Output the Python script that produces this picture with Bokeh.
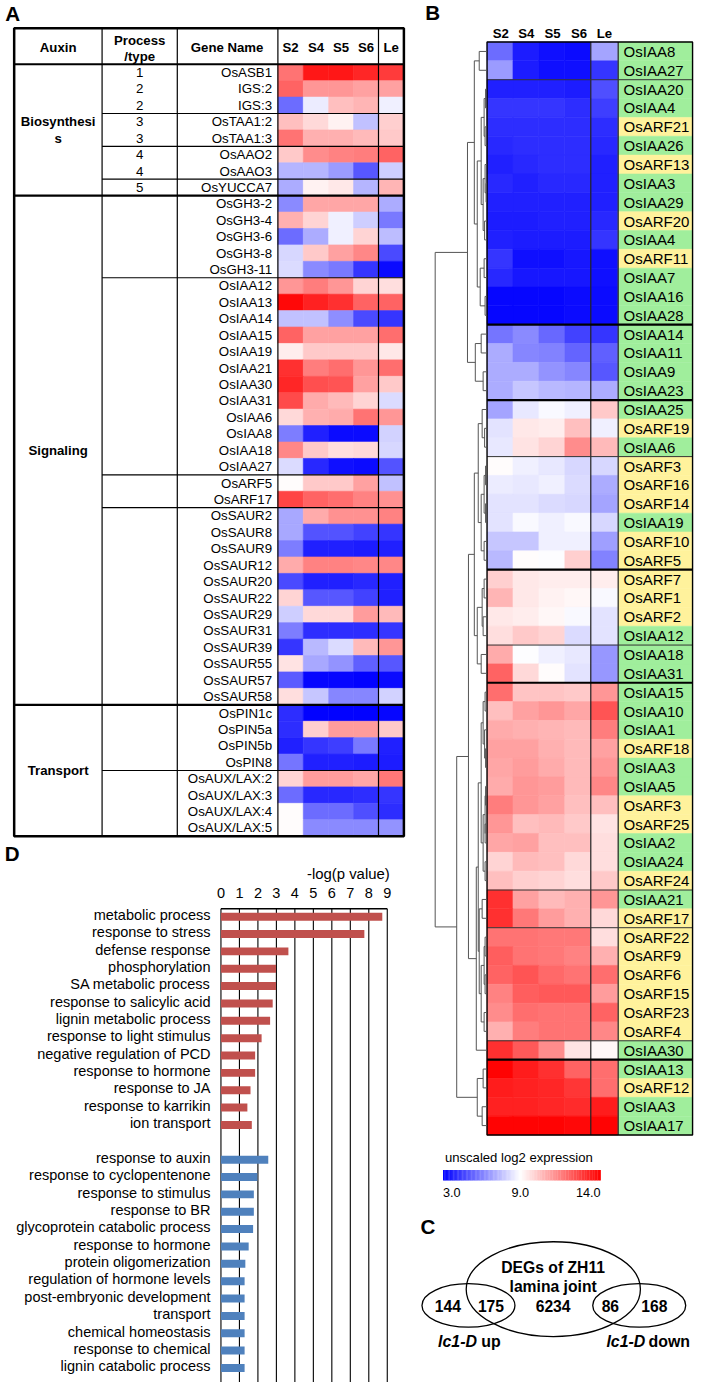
from bokeh.plotting import figure
from bokeh.layouts import row, column
from bokeh.models import Range1d, LinearColorMapper, ColumnDataSource
from bokeh.transform import transform
from bokeh.core.properties import value
from bokeh.embed import file_html
from bokeh.resources import INLINE

# ------------------------------------------------------------------ data
SAMPLES = ["S2", "S4", "S5", "S6", "Le"]

A_genes = ["OsASB1", "IGS:2", "IGS:3", "OsTAA1:2", "OsTAA1:3", "OsAAO2", "OsAAO3", "OsYUCCA7",
           "OsGH3-2", "OsGH3-4", "OsGH3-6", "OsGH3-8", "OsGH3-11",
           "OsIAA12", "OsIAA13", "OsIAA14", "OsIAA15", "OsIAA19", "OsIAA21", "OsIAA30", "OsIAA31",
           "OsIAA6", "OsIAA8", "OsIAA18", "OsIAA27",
           "OsARF5", "OsARF17",
           "OsSAUR2", "OsSAUR8", "OsSAUR9", "OsSAUR12", "OsSAUR20", "OsSAUR22", "OsSAUR29", "OsSAUR31",
           "OsSAUR39", "OsSAUR55", "OsSAUR57", "OsSAUR58",
           "OsPIN1c", "OsPIN5a", "OsPIN5b", "OsPIN8",
           "OsAUX/LAX:2", "OsAUX/LAX:3", "OsAUX/LAX:4", "OsAUX/LAX:5"]
A_process = ["1", "2", "2", "3", "3", "4", "4", "5"]
A_expr = [
    [11.7, 13.5, 13.5, 13.2, 12.8], [12.0, 11.0, 11.0, 10.8, 10.8], [5.5, 8.5, 10.2, 10.4, 8.6],
    [10.2, 9.7, 9.2, 7.5, 9.9], [11.7, 10.5, 10.5, 10.3, 10.0], [10.0, 11.2, 11.4, 11.5, 12.0],
    [7.2, 7.2, 6.6, 5.0, 7.8], [7.0, 9.2, 9.4, 7.2, 10.4],
    [6.2, 10.7, 10.7, 10.7, 7.0], [10.5, 9.8, 8.7, 7.8, 5.8], [5.6, 7.0, 8.7, 9.8, 7.4],
    [8.0, 10.0, 10.8, 11.3, 4.7], [8.2, 6.2, 5.8, 4.2, 3.2],
    [11.0, 11.5, 11.0, 9.8, 9.6], [13.8, 13.3, 13.0, 12.0, 12.0], [7.5, 7.5, 6.3, 4.7, 4.2],
    [12.0, 10.8, 10.8, 10.8, 11.8], [9.3, 10.0, 10.0, 10.0, 9.4], [13.0, 11.5, 11.8, 11.0, 11.8],
    [13.2, 12.4, 12.3, 10.8, 10.0], [12.5, 10.6, 10.3, 9.8, 8.2], [9.7, 10.5, 10.6, 11.7, 11.0],
    [5.9, 3.8, 3.3, 3.2, 7.9], [11.3, 10.0, 9.6, 9.7, 8.0], [8.2, 3.9, 3.4, 3.3, 4.9],
    [9.0, 10.0, 10.0, 10.8, 7.5], [12.6, 12.0, 11.8, 11.4, 11.1],
    [6.9, 10.6, 11.1, 11.1, 11.4], [6.9, 4.9, 4.9, 4.6, 4.2], [5.9, 3.8, 3.8, 3.6, 3.8],
    [10.6, 11.4, 11.4, 11.3, 11.3], [4.7, 3.7, 3.7, 3.9, 3.8], [9.8, 5.0, 5.0, 4.5, 3.7],
    [7.8, 9.7, 9.7, 10.9, 10.3], [5.9, 4.0, 4.0, 4.1, 4.2], [4.2, 7.3, 8.1, 10.3, 11.0],
    [9.5, 6.9, 6.4, 5.2, 5.0], [5.1, 3.1, 3.1, 3.0, 3.2], [9.6, 7.6, 6.1, 6.1, 7.9],
    [4.0, 3.0, 3.0, 3.0, 3.1], [4.0, 9.9, 10.9, 10.9, 10.0], [3.8, 4.2, 4.4, 5.8, 3.8],
    [5.7, 3.8, 3.8, 3.6, 3.6],
    [9.8, 10.9, 10.9, 10.7, 11.6], [5.6, 3.9, 3.9, 4.0, 4.2], [9.0, 5.6, 5.6, 4.8, 4.0],
    [9.0, 6.2, 6.2, 6.2, 6.4]]
A_sections = [("Biosynthesi\ns", 0, 8), ("Signaling", 8, 39), ("Transport", 39, 47)]
A_thin_breaks = [3, 5, 7, 13, 25, 27, 43]
A_thick_breaks = [8, 39]

B_genes = ["OsIAA8", "OsIAA27", "OsIAA20", "OsIAA4", "OsARF21", "OsIAA26", "OsARF13", "OsIAA3",
           "OsIAA29", "OsARF20", "OsIAA4", "OsARF11", "OsIAA7", "OsIAA16", "OsIAA28",
           "OsIAA14", "OsIAA11", "OsIAA9", "OsIAA23",
           "OsIAA25", "OsARF19", "OsIAA6", "OsARF3", "OsARF16", "OsARF14", "OsIAA19", "OsARF10", "OsARF5",
           "OsARF7", "OsARF1", "OsARF2", "OsIAA12", "OsIAA18", "OsIAA31",
           "OsIAA15", "OsIAA10", "OsIAA1", "OsARF18", "OsIAA3", "OsIAA5", "OsARF3", "OsARF25",
           "OsIAA2", "OsIAA24", "OsARF24", "OsIAA21", "OsARF17", "OsARF22", "OsARF9", "OsARF6",
           "OsARF15", "OsARF23", "OsARF4", "OsIAA30",
           "OsIAA13", "OsARF12", "OsIAA3", "OsIAA17"]
B_expr = [
    [5.5, 3.6, 3.4, 3.3, 6.8], [6.6, 3.6, 3.4, 3.4, 4.2], [3.7, 3.8, 3.8, 3.6, 4.8],
    [4.2, 4.2, 4.2, 4.1, 4.4], [4.0, 4.0, 4.1, 4.0, 4.0], [3.9, 4.0, 4.0, 4.0, 3.9],
    [3.8, 3.9, 4.0, 4.0, 3.8], [3.9, 3.7, 3.9, 3.9, 3.8], [3.8, 3.8, 3.8, 3.8, 3.8],
    [3.6, 3.6, 3.7, 3.7, 3.9], [3.7, 3.6, 3.6, 3.6, 4.3], [4.3, 3.4, 3.4, 3.5, 3.4],
    [3.9, 3.5, 3.5, 3.5, 3.4], [3.1, 3.1, 3.1, 3.2, 3.3], [3.1, 3.1, 3.1, 3.2, 3.3],
    [5.7, 6.2, 5.4, 4.5, 4.2], [7.0, 6.1, 6.0, 5.3, 5.2], [7.0, 7.0, 6.4, 6.1, 5.0],
    [7.0, 7.6, 7.3, 7.2, 7.0],
    [6.8, 8.4, 8.8, 8.7, 10.0], [8.3, 9.4, 9.3, 10.2, 8.7], [8.4, 9.5, 9.8, 11.2, 10.3],
    [9.0, 8.6, 8.4, 8.0, 8.0], [8.5, 8.4, 8.7, 8.1, 7.0], [8.3, 8.3, 8.1, 8.0, 6.8],
    [8.3, 8.8, 8.6, 8.8, 8.0], [7.6, 7.6, 8.7, 8.7, 6.7], [7.3, 9.0, 8.9, 9.9, 6.0],
    [9.9, 9.4, 9.3, 9.3, 9.3], [10.4, 9.4, 9.2, 9.1, 8.8], [9.4, 9.3, 9.1, 8.8, 8.3],
    [9.6, 10.0, 9.8, 8.2, 8.3], [10.6, 8.9, 8.6, 8.4, 6.5], [12.0, 9.7, 9.0, 8.3, 6.5],
    [11.8, 10.1, 10.1, 10.0, 11.0], [10.2, 10.8, 11.0, 10.7, 12.3], [10.6, 10.5, 10.4, 10.3, 11.5],
    [10.8, 10.8, 10.5, 10.3, 10.8], [10.7, 10.9, 10.6, 10.3, 11.0], [10.6, 11.0, 10.9, 10.3, 11.3],
    [11.5, 11.0, 10.8, 10.2, 10.2], [11.0, 10.2, 10.3, 10.0, 9.5], [10.7, 10.8, 10.2, 10.2, 9.6],
    [9.8, 10.3, 10.2, 9.7, 9.6], [10.2, 9.9, 9.8, 9.6, 10.0], [13.0, 10.8, 10.3, 10.5, 11.0],
    [13.0, 11.6, 10.9, 10.5, 9.7], [11.7, 11.7, 11.6, 11.6, 9.6], [12.1, 11.7, 11.6, 11.4, 10.5],
    [12.0, 12.3, 11.9, 11.7, 11.8], [11.4, 12.1, 12.2, 12.2, 10.9], [11.2, 11.8, 11.7, 11.7, 12.0],
    [10.5, 11.5, 11.7, 11.7, 11.3], [13.0, 12.2, 11.2, 9.5, 9.1],
    [13.9, 13.4, 13.0, 12.0, 11.8], [13.4, 13.3, 13.2, 12.9, 11.8], [13.3, 13.3, 13.2, 13.1, 13.4],
    [13.9, 13.9, 13.9, 13.8, 13.9]]
B_thin_breaks = [2, 22, 32, 45, 47, 53]
B_thick_breaks = [15, 19, 28, 34, 54]

# dendrogram: (merge distance, left, right); leaves are row indices
B_tree = (53,
          (20,
           (13, (8, 0, 1),
            (10, (6, (3, (1.5, 2, 3), (2, 4, 5)), (4, (2, 6, (1, 7, 8)), (2.5, 9, 10))),
             (7, (3, 11, 12), (2, 13, 14)))),
           (12, (6, 15, 16), (4, 17, 18))),
          (31,
           (19,
            (13,
             (9, (5, 19, (2.5, 20, 21)), (6, (3, (1.5, 22, 23), (1.5, 24, 25)), (3, 26, 27))),
             (10, (5, (3, 28, 29), (4, 30, 31)), (6, 32, 33))),
            (11,
             (9,
              (6, (4, (2, 34, 35), (2.5, 36, (1.5, 37, 38))), (4, (2, (1.5, 39, 40), (2, 41, 42)), (2, 43, 44))),
              (8, (5, 45, 46), (6, (3, (2, 47, 48), (2, 49, 50)), (3, 51, 52)))),
             53)),
           (10, (4, 54, 55), (5, 56, 57))))

CBAR_LOW, CBAR_MID, CBAR_HIGH = 3.0, 9.0, 14.0

VENN_SETS = ["DEGs of ZH11", "lamina joint"]
VENN_COUNTS = {"up_only": 144, "up_and_deg": 175, "deg_only": 6234, "down_and_deg": 86, "down_only": 168}

GO_up_terms = ["metabolic process", "response to stress", "defense response", "phosphorylation",
               "SA metabolic process", "response to salicylic acid", "lignin metabolic process",
               "response to light stimulus", "negative regulation of PCD", "response to hormone",
               "response to JA", "response to karrikin", "ion transport"]
GO_up_vals = [8.73, 7.76, 3.65, 2.98, 2.98, 2.8, 2.66, 2.2, 1.85, 1.85, 1.6, 1.43, 1.67]
GO_down_terms = ["response to auxin", "response to cyclopentenone", "response to stimulus", "response to BR",
                 "glycoprotein catabolic process", "response to hormone", "protein oligomerization",
                 "regulation of hormone levels", "post-embryonic development", "transport",
                 "chemical homeostasis", "response to chemical", "lignin catabolic process"]
GO_down_vals = [2.56, 1.97, 1.78, 1.78, 1.74, 1.5, 1.32, 1.28, 1.28, 1.28, 1.28, 1.28, 1.28]
GO_ticks = list(range(10))

# ------------------------------------------------------------------ style
FONT = value("Liberation Sans")
SX = 695 / 711
SY = 1382 / 1398
FS = 0.98
GREEN = "#A0EE9C"
YELLOW = "#FFF29C"
RED_BAR = "#C0504D"
BLUE_BAR = "#4F81BD"


def fpx(s):
    return "%.1fpx" % (s * FS)


def cmap_color(v):
    if v <= CBAR_MID:
        f = (CBAR_MID - v) / (CBAR_MID - CBAR_LOW)
        c = (int(round(255 * (1 - f))), int(round(255 * (1 - f))), 255)
    else:
        f = (v - CBAR_MID) / (CBAR_HIGH - CBAR_MID)
        c = (255, int(round(255 * (1 - f))), int(round(255 * (1 - f))))
    return "#%02x%02x%02x" % c


N_PAL = 110
palette = [cmap_color(CBAR_LOW + (k + 0.5) * (CBAR_HIGH - CBAR_LOW) / N_PAL) for k in range(N_PAL)]
mapper = LinearColorMapper(palette=palette, low=CBAR_LOW, high=CBAR_HIGH)


def mkfig(w, h, xr, yr):
    p = figure(width=w, height=h, x_range=xr, y_range=yr, output_backend="svg",
               toolbar_location=None, min_border=0, x_axis_location=None, y_axis_location=None)
    p.grid.visible = False
    p.outline_line_color = None
    p.background_fill_color = "white"
    p.border_fill_color = "white"
    return p


def txt(p, x, y, t, size, align="center", style="normal", color="black", baseline="middle"):
    p.text(x=x, y=y, text=t, text_font=FONT, text_font_size=fpx(size), text_align=align,
           text_baseline=baseline, text_font_style=style, text_color=color)


WA, HA = 420, 840
WB, HB = 695 - WA, 1137
HD = 1382 - HA
HC = 1382 - HB

# ------------------------------------------------------------------ panel A
A_TOP = 64.5
A_ROW = 16.62


def ay(px):
    return (px - A_TOP) / A_ROW


pA = mkfig(WA, HA, Range1d(0, 430), Range1d(ay(850), ay(0)))
a_edges = [284, 310, 336, 361.5, 387, 413]
xs, ys, ws, vs = [], [], [], []
for i, rowv in enumerate(A_expr):
    for j, v in enumerate(rowv):
        xs.append((a_edges[j] + a_edges[j + 1]) / 2)
        ws.append(a_edges[j + 1] - a_edges[j])
        ys.append(i + 0.5)
        vs.append(v)
srcA = ColumnDataSource(dict(x=xs, y=ys, w=ws, v=vs))
pA.rect(x="x", y="y", width="w", height=1, source=srcA, fill_color=transform("v", mapper),
        line_color=transform("v", mapper), line_width=0.6)

nA = len(A_genes)
txt(pA, [278] * nA, [i + 0.5 for i in range(nA)], A_genes, 13.6, align="right")
txt(pA, [142.5] * len(A_process), [i + 0.5 for i in range(len(A_process))], A_process, 13.6)
# headers
hy = ay(48)
txt(pA, [59, 232], [hy, hy], ["Auxin", "Gene Name"], 13.5, style="bold")
txt(pA, [142.5, 142.5], [ay(40), ay(57)], ["Process", "/type"], 13.5, style="bold")
txt(pA, [(a_edges[j] + a_edges[j + 1]) / 2 for j in range(5)], [hy] * 5, SAMPLES, 13.5, style="bold")
# section labels
for name, s, e in A_sections:
    lines = name.split("\n")
    mid = (s + e) / 2
    n = len(lines)
    for k, ln in enumerate(lines):
        txt(pA, [59], [mid + (k - (n - 1) / 2) * 1.0], [ln], 13.5, style="bold")
# grid lines
top_a = ay(28)
pA.segment(x0=[104, 181, 284, 387], y0=[top_a] * 4, x1=[104, 181, 284, 387], y1=[nA] * 4,
           line_color="black", line_width=1.2)
pA.segment(x0=[104] * len(A_thin_breaks), y0=A_thin_breaks, x1=[413] * len(A_thin_breaks), y1=A_thin_breaks,
           line_color="black", line_width=1.2)
pA.segment(x0=[14] * 3, y0=A_thick_breaks + [0], x1=[413] * 3, y1=A_thick_breaks + [0],
           line_color="black", line_width=2.2)
pA.quad(left=14, right=413, top=top_a, bottom=nA, fill_color=None, line_color="black", line_width=2.5)
txt(pA, [12.5], [ay(13)], ["A"], 21, style="bold")

# ------------------------------------------------------------------ panel D
D_X0 = 225.7
D_UNIT = 18.92
D_SLOT0 = 927.0
D_SLOT = 17.55


def dx(px):
    return (px - D_X0) / D_UNIT


def dy(px):
    return (px - D_SLOT0) / D_SLOT


pD = mkfig(WA, HD, Range1d(dx(0), dx(430)), Range1d(dy(1398), dy(850)))
up_slots = list(range(len(GO_up_terms)))
down_slots = [len(GO_up_terms) + 1 + k for k in range(len(GO_down_terms))]
axis_y = dy(919)
pD.segment(x0=GO_ticks, y0=[axis_y] * len(GO_ticks), x1=GO_ticks, y1=[dy(1398)] * len(GO_ticks),
           line_color="black", line_width=1.1)
pD.segment(x0=[0], y0=[axis_y], x1=[GO_ticks[-1]], y1=[axis_y], line_color="black", line_width=1.4)
pD.hbar(y=up_slots, left=0, right=GO_up_vals, height=0.46, fill_color=RED_BAR, line_color=None)
pD.hbar(y=down_slots, left=0, right=GO_down_vals, height=0.46, fill_color=BLUE_BAR, line_color=None)
lab_x = dx(215)
txt(pD, [lab_x] * len(up_slots), [s - 0.1 for s in up_slots], GO_up_terms, 14.8, align="right")
txt(pD, [lab_x] * len(down_slots), [s - 0.1 for s in down_slots], GO_down_terms, 14.8, align="right")
txt(pD, GO_ticks, [dy(903)] * len(GO_ticks), [str(t) for t in GO_ticks], 14.8)
txt(pD, [dx(398.5)], [dy(884)], ["-log(p value)"], 15.2, align="right")
txt(pD, [dx(12)], [dy(863)], ["D"], 21, style="bold")

# ------------------------------------------------------------------ panel B
B_TOP = 42.0
B_ROW = 19.06


def by(px):
    return (px - B_TOP) / B_ROW


pB = mkfig(WB, HB, Range1d(430, 711), Range1d(by(1150), by(0)))
b_edges = [498, 524.5, 551, 577.5, 604, 632]
NAME_L, NAME_R = 632, 708
nB = len(B_genes)
xs, ys, ws, vs = [], [], [], []
for i, rowv in enumerate(B_expr):
    for j, v in enumerate(rowv):
        xs.append((b_edges[j] + b_edges[j + 1]) / 2)
        ws.append(b_edges[j + 1] - b_edges[j])
        ys.append(i + 0.5)
        vs.append(v)
srcB = ColumnDataSource(dict(x=xs, y=ys, w=ws, v=vs))
pB.rect(x="x", y="y", width="w", height=1, source=srcB, fill_color=transform("v", mapper),
        line_color=transform("v", mapper), line_width=0.6)
name_colors = [YELLOW if "ARF" in g else GREEN for g in B_genes]
pB.rect(x=[(NAME_L + NAME_R) / 2] * nB, y=[i + 0.5 for i in range(nB)], width=NAME_R - NAME_L, height=1,
        fill_color=name_colors, line_color=name_colors, line_width=0.5)
txt(pB, [NAME_L + 5.5] * nB, [i + 0.5 for i in range(nB)], B_genes, 15.3, align="left")
txt(pB, [512, 538, 565, 592, 618], [by(33)] * 5, SAMPLES, 13.5, style="bold")
pB.segment(x0=[b_edges[4], NAME_L], y0=[0, 0], x1=[b_edges[4], NAME_L], y1=[nB, nB],
           line_color="#222222", line_width=1.2)
pB.segment(x0=[498] * len(B_thin_breaks), y0=B_thin_breaks, x1=[NAME_R] * len(B_thin_breaks),
           y1=B_thin_breaks, line_color="#333333", line_width=1.0)
pB.segment(x0=[498] * len(B_thick_breaks), y0=B_thick_breaks, x1=[NAME_R] * len(B_thick_breaks),
           y1=B_thick_breaks, line_color="black", line_width=2.2)
pB.quad(left=498, right=NAME_R, top=0, bottom=nB, fill_color=None, line_color="black", line_width=1.4)

# dendrogram
DEND_X0 = 498.0
DEND_SCALE = 1.0
seg_x0, seg_y0, seg_x1, seg_y1 = [], [], [], []


def walk(node):
    if isinstance(node, int):
        return node + 0.5, 0.0
    h, l, r = node
    yl, hl = walk(l)
    yr, hr = walk(r)
    xn = DEND_X0 - h * DEND_SCALE
    seg_x0.extend([xn, DEND_X0 - hl * DEND_SCALE, DEND_X0 - hr * DEND_SCALE])
    seg_x1.extend([xn, xn, xn])
    seg_y0.extend([yl, yl, yr])
    seg_y1.extend([yr, yl, yr])
    return (yl + yr) / 2, h


walk(B_tree)
pB.segment(x0=seg_x0, y0=seg_y0, x1=seg_x1, y1=seg_y1, line_color="#555555", line_width=1.0)
txt(pB, [442.5], [by(12.5)], ["B"], 21, style="bold")

# ------------------------------------------------------------------ colour bar + panel C
pC = mkfig(WB, HC, Range1d(430, 711), Range1d(1398, 1150))
CB_L, CB_M, CB_R = 453.0, 532.0, 614.0


def cb_pos(v):
    if v <= CBAR_MID:
        return CB_L + (v - CBAR_LOW) / (CBAR_MID - CBAR_LOW) * (CB_M - CB_L)
    return CB_M + (v - CBAR_MID) / (CBAR_HIGH - CBAR_MID) * (CB_R - CB_M)


step = (CBAR_HIGH - CBAR_LOW) / N_PAL
cb_vals = [CBAR_LOW + (k + 0.5) * step for k in range(N_PAL)]
cb_left = [cb_pos(v - step / 2) for v in cb_vals]
cb_right = [cb_pos(v + step / 2) + 0.3 for v in cb_vals]
srcCB = ColumnDataSource(dict(l=cb_left, r=cb_right, v=cb_vals))
pC.quad(left="l", right="r", top=1183, bottom=1193.5, source=srcCB, fill_color=transform("v", mapper),
        line_color=None)
txt(pC, [455], [1170], ["unscaled log2 expression"], 13.4, align="left")
txt(pC, [CB_L, cb_pos(CBAR_MID), CB_R], [1206] * 3, ["%.1f" % CBAR_LOW, "%.1f" % CBAR_MID, "%.1f" % CBAR_HIGH],
    13, align=["left", "center", "right"])
txt(pC, [437.5], [1240], ["C"], 21, style="bold")

pC.ellipse(x=[565.7, 479.0, 653.5], y=[1303.5, 1320.0, 1320.0], width=[178, 95, 95], height=[96, 44, 44],
           fill_color=None, line_color="black", line_width=1.3)
txt(pC, [565.5, 565.5], [1282, 1301], VENN_SETS, 16, style="bold")
txt(pC, [565.5, 458, 502, 624, 669], [1321] * 5,
    [str(VENN_COUNTS[k]) for k in ["deg_only", "up_only", "up_and_deg", "down_and_deg", "down_only"]],
    16, style="bold")
txt(pC, [448, 620], [1357, 1357], ["lc1-D", "lc1-D"], 16.2, align="left", style="bold italic")
txt(pC, [492, 663], [1357, 1357], ["up", "down"], 16.2, align="left", style="bold")

layout = row(column(pA, pD, spacing=0), column(pB, pC, spacing=0), spacing=0)
open("out.html", "w").write(file_html(layout, INLINE))
